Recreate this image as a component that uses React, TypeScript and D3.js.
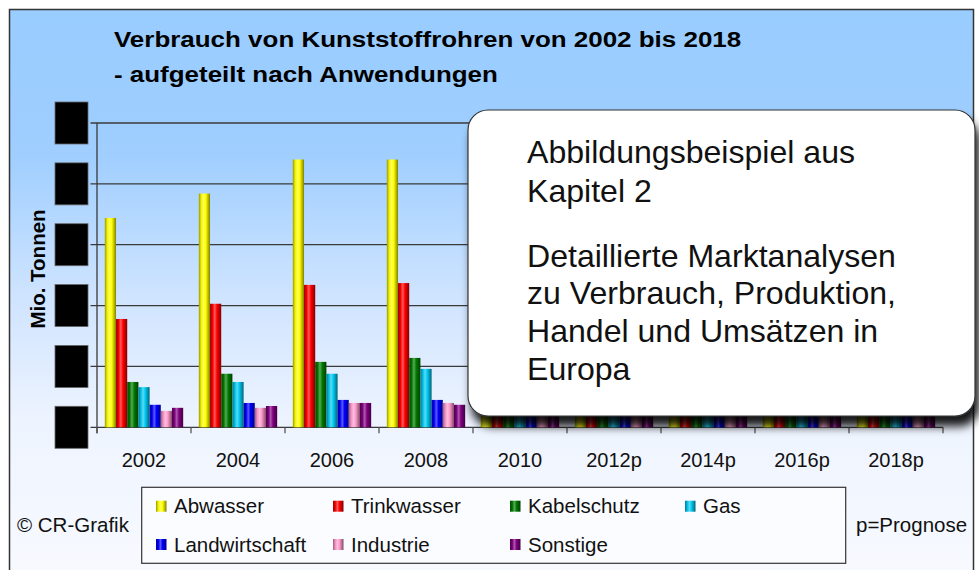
import React from "react";
import * as d3 from "d3";

const years = ["2002", "2004", "2006", "2008", "2010", "2012p", "2014p", "2016p", "2018p"];
const seriesNames = ["Abwasser", "Trinkwasser", "Kabelschutz", "Gas", "Landwirtschaft", "Industrie", "Sonstige"];
const seriesColors = ["#FFFF00", "#FF0000", "#007A00", "#00C8F0", "#0000FF", "#FF99CC", "#800080"];

const abwasser = [3.44, 3.84, 4.4, 4.4, 4.5, 4.6, 4.7, 4.8, 4.9];
const trinkwasser = [1.78, 2.03, 2.34, 2.37, 2.4, 2.45, 2.5, 2.55, 2.6];
const kabelschutz = [0.745, 0.88, 1.075, 1.14, 1.15, 1.2, 1.25, 1.3, 1.35];
const gas = [0.66, 0.745, 0.88, 0.96, 0.98, 1.0, 1.03, 1.06, 1.1];
const landwirtschaft = [0.37, 0.4, 0.45, 0.45, 0.46, 0.47, 0.48, 0.49, 0.5];
const industrie = [0.27, 0.32, 0.4, 0.4, 0.41, 0.42, 0.43, 0.44, 0.45];
const sonstige = [0.32, 0.35, 0.4, 0.37, 0.38, 0.39, 0.4, 0.41, 0.42];
const seriesValues = [abwasser, trinkwasser, kabelschutz, gas, landwirtschaft, industrie, sonstige];

const yTicks = [0, 1, 2, 3, 4, 5];

const titleLines = ["Verbrauch von Kunststoffrohren von 2002 bis 2018", "- aufgeteilt nach Anwendungen"];
const boxLines1 = ["Abbildungsbeispiel aus", "Kapitel 2"];
const boxLines2 = ["Detaillierte Marktanalysen", "zu Verbrauch, Produktion,", "Handel und Umsätzen in", "Europa"];

const FONT = "'Liberation Sans', Arial, Helvetica, sans-serif";

function shade(c: string, k: number) {
  const col = d3.rgb(c);
  if (k < 0) {
    const f = 1 + k;
    return d3.rgb(col.r * f, col.g * f, col.b * f).formatHex();
  }
  return d3.rgb(col.r + (255 - col.r) * k, col.g + (255 - col.g) * k, col.b + (255 - col.b) * k).formatHex();
}

export default function App() {
  const W = 979;
  const H = 570;
  const plotL = 97;
  const plotR = 943;
  const plotT = 123;
  const plotB = 427.3;

  const x = d3.scaleBand<string>().domain(years).range([plotL, plotR]).paddingInner(0).paddingOuter(0);
  const xi = d3
    .scaleBand<string>()
    .domain(seriesNames)
    .range([0, x.bandwidth()])
    .paddingInner(0)
    .paddingOuter(0.7);
  const y = d3.scaleLinear().domain([0, 5]).range([plotB, plotT]);

  const legendCols = [156, 333, 510, 685];
  const legendRows = [500.7, 539];

  return (
    <svg
      width={W}
      height={H}
      style={{ position: "absolute", left: 0, top: 0, fontFamily: FONT }}
    >
      <defs>
        <linearGradient id="bg" x1="0" y1="0" x2="0" y2="1">
          <stop offset="0" stopColor="#99CCFF" />
          <stop offset="0.25" stopColor="#9FCEFF" />
          <stop offset="0.5" stopColor="#CFE4FF" />
          <stop offset="0.72" stopColor="#EEF4FF" />
          <stop offset="1" stopColor="#F8FAFF" />
        </linearGradient>
        {seriesColors.map((c, i) => (
          <linearGradient key={i} id={`g${i}`} x1="0" y1="0" x2="1" y2="0">
            <stop offset="0" stopColor={shade(c, -0.4)} />
            <stop offset="0.22" stopColor={shade(c, -0.05)} />
            <stop offset="0.42" stopColor={shade(c, 0.35)} />
            <stop offset="0.62" stopColor={c} />
            <stop offset="1" stopColor={shade(c, -0.5)} />
          </linearGradient>
        ))}
        <filter id="shadow" x="-10%" y="-10%" width="130%" height="130%">
          <feDropShadow dx="4" dy="10" stdDeviation="5" floodColor="#000" floodOpacity="0.9" />
        </filter>
      </defs>

      {/* chart frame */}
      <rect x={9.5} y={9.5} width={964} height={575} fill="url(#bg)" stroke="#333" strokeWidth={1.5} />

      {/* title */}
      {titleLines.map((t, i) => (
        <text
          key={i}
          transform={`translate(114,${46.7 + i * 35.5}) scale(1.18,1)`}
          fontSize={22}
          fontWeight="bold"
          fill="#000"
        >
          {t}
        </text>
      ))}

      {/* gridlines */}
      {yTicks.map((t) => (
        <line key={t} x1={plotL - 6.5} x2={plotR} y1={y(t)} y2={y(t)} stroke="#3a3a3a" strokeWidth={1.3} />
      ))}
      {/* y axis */}
      <line x1={plotL} x2={plotL} y1={plotT} y2={plotB + 6} stroke="#3a3a3a" strokeWidth={1.3} />
      {/* x ticks */}
      {years.concat(["end"]).map((yr, i) => {
        const xx = plotL + i * x.step();
        return <line key={yr} x1={xx} x2={xx} y1={plotB} y2={plotB + 6} stroke="#555" strokeWidth={1.3} />;
      })}

      {/* bars */}
      {years.map((yr, j) => (
        <g key={yr} transform={`translate(${x(yr)},0)`}>
          {seriesNames.map((s, i) => {
            const v = seriesValues[i][j];
            return (
              <rect
                key={s}
                x={xi(s)}
                y={y(v)}
                width={xi.bandwidth()}
                height={plotB - y(v)}
                fill={`url(#g${i})`}
              />
            );
          })}
        </g>
      ))}

      {/* x labels */}
      {years.map((yr) => (
        <text key={yr} x={(x(yr) as number) + x.bandwidth() / 2} y={467.3} textAnchor="middle" fontSize={20} fill="#111">
          {yr}
        </text>
      ))}

      {/* redacted y tick labels */}
      {yTicks.map((t) => (
        <rect key={t} x={55} y={y(t) - 21} width={33} height={42} fill="#000" stroke="#666" strokeWidth={0.8} />
      ))}

      {/* y axis title */}
      <text
        transform={`translate(45,269) rotate(-90)`}
        textAnchor="middle"
        fontSize={20.5}
        fontWeight="bold"
        fill="#000"
      >
        Mio. Tonnen
      </text>

      {/* overlay box */}
      <rect x={468} y={110} width={507} height={306} rx={20} ry={20} fill="#FFFFFF" stroke="#333" strokeWidth={1.2} filter="url(#shadow)" />
      {boxLines1.map((t, i) => (
        <text key={t} transform={`translate(527,${163 + i * 38.5}) scale(1.035,1)`} fontSize={31} fill="#111">
          {t}
        </text>
      ))}
      {boxLines2.map((t, i) => (
        <text key={t} transform={`translate(527,${266.7 + i * 37.7}) scale(1.035,1)`} fontSize={31} fill="#111">
          {t}
        </text>
      ))}

      {/* legend */}
      <rect x={141.7} y={487.3} width={704} height={76} fill="#FAFCFF" stroke="#333" strokeWidth={1.2} />
      {seriesNames.map((s, i) => {
        const cx = legendCols[i % 4];
        const ry = legendRows[Math.floor(i / 4)];
        return (
          <g key={s}>
            <rect x={cx} y={ry} width={10.5} height={11} fill={`url(#g${i})`} />
            <text x={cx + 18} y={ry + 12.6} fontSize={20.5} fill="#111">
              {s}
            </text>
          </g>
        );
      })}

      <text x={17} y={531.7} fontSize={20.5} fill="#111">© CR-Grafik</text>
      <text x={856} y={531.7} fontSize={20.5} fill="#111">p=Prognose</text>
    </svg>
  );
}
